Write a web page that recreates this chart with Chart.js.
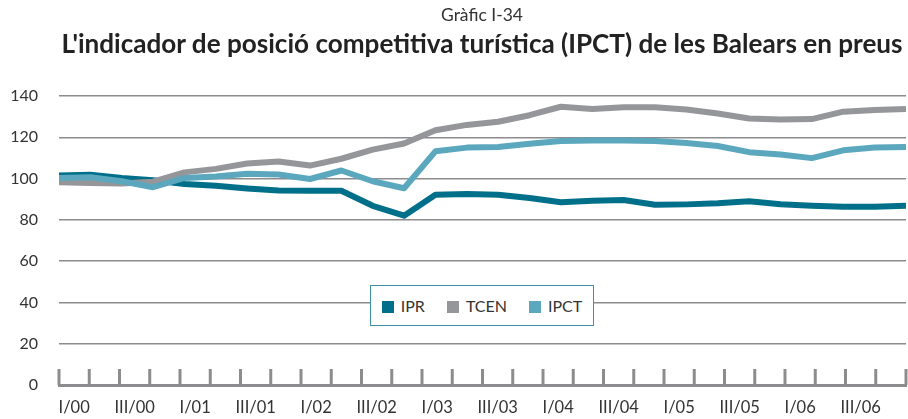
<!DOCTYPE html>
<html>
<head>
<meta charset="utf-8">
<script src="https://cdn.jsdelivr.net/npm/chart.js@4.4.0/dist/chart.umd.min.js"></script>
<style>
  html, body { margin: 0; padding: 0; background: #fff; }
  #wrap { position: relative; width: 908px; height: 419px; overflow: hidden; }
  #chart { position: absolute; left: 0; top: 0; }
  .sup { position: absolute; left: 482px; top: 4px; transform: translateX(-50%); white-space: nowrap;
         font: 17.5px Lato, sans-serif; color: #333; }
  .ttl { position: absolute; left: 482px; top: 27px; transform: translateX(-50%); white-space: nowrap;
         font: bold 26.1px Lato, sans-serif; color: #222; }
  #legend { position: absolute; left: 370px; top: 285px; width: 222px; height: 39px;
            border: 1.5px solid #3f90a3; background: #fff; display: flex;
            align-items: center; justify-content: center; gap: 22px;
            font: 16px Lato, sans-serif; color: #333; }
  #legend span.sw { display: inline-block; width: 12px; height: 12px; margin-right: 7px; vertical-align: -1px; }
</style>
</head>
<body>
<div id="wrap">
  <canvas id="chart" width="908" height="419"></canvas>
  <div class="sup">Gràfic I-34</div>
  <div class="ttl">L'indicador de posició competitiva turística (IPCT) de les Balears en preus</div>
  <div id="legend"></div>
</div>
<script>
// quarters I/00 .. IV/06
const quarters = [
  'I/00', 'II/00', 'III/00', 'IV/00',
  'I/01', 'II/01', 'III/01', 'IV/01',
  'I/02', 'II/02', 'III/02', 'IV/02',
  'I/03', 'II/03', 'III/03', 'IV/03',
  'I/04', 'II/04', 'III/04', 'IV/04',
  'I/05', 'II/05', 'III/05', 'IV/05',
  'I/06', 'II/06', 'III/06', 'IV/06'
];

const ipr = [101.5, 101.8, 100.3, 99.2, 97.4, 96.5, 95.2, 94.2, 94.1, 94.1, 86.8, 82.0, 92.2, 92.5,
             92.2, 90.6, 88.5, 89.3, 89.6, 87.3, 87.5, 88.0, 89.0, 87.6, 86.8, 86.3, 86.3, 86.8];
const tcen = [98.2, 97.9, 97.6, 98.5, 103.0, 104.7, 107.3, 108.3, 106.3, 109.6, 114.0, 117.0, 123.4, 126.0,
              127.5, 130.7, 134.8, 133.7, 134.5, 134.5, 133.5, 131.5, 129.1, 128.6, 128.8, 132.4, 133.2, 133.7];
const ipct = [100.3, 100.6, 98.7, 95.8, 100.3, 101.0, 102.3, 102.0, 99.8, 103.9, 98.7, 95.3, 113.2, 115.0,
              115.3, 116.9, 118.2, 118.5, 118.5, 118.2, 117.2, 115.8, 112.8, 111.7, 109.9, 113.7, 115.0, 115.3];

const seriesNames = ['IPR', 'TCEN', 'IPCT'];
const seriesColors = ['#00708a', '#95969a', '#5ba8be'];
const seriesValues = [ipr, tcen, ipct];

const yMin = 0, yMax = 140, yStep = 20;

// small tick marks standing on the x axis, one at every quarter boundary
const quarterTicks = {
  id: 'quarterTicks',
  afterDraw(chart) {
    const sc = chart.scales.x;
    const ctx = chart.ctx;
    ctx.save();
    ctx.strokeStyle = '#8c8c8e';
    ctx.lineWidth = 3;
    for (let i = 0; i <= quarters.length; i++) {
      const x = sc.getPixelForValue(i - 0.5);
      ctx.beginPath();
      ctx.moveTo(x, sc.top - 16);
      ctx.lineTo(x, sc.top);
      ctx.stroke();
    }
    ctx.restore();
  }
};

const datasets = seriesNames.map((name, k) => ({
  label: name,
  data: seriesValues[k].map((v, i) => ({ x: i, y: v })),
  xAxisID: 'xd',
  borderColor: seriesColors[k],
  backgroundColor: seriesColors[k],
  borderWidth: 6,
  borderJoinStyle: 'round',
  pointRadius: 0,
  tension: 0,
  order: 2 - k
}));

new Chart(document.getElementById('chart'), {
  type: 'line',
  data: { labels: quarters, datasets: datasets },
  options: {
    responsive: false,
    animation: false,
    layout: { padding: { top: 96, left: 8, right: 2, bottom: 2 } },
    plugins: { legend: { display: false }, tooltip: { enabled: false } },
    scales: {
      x: {
        type: 'category',
        offset: true,
        grid: { display: false },
        border: { display: true, color: '#8c8c8e', width: 3 },
        afterFit: s => { s.height = 32; },
        ticks: {
          autoSkip: false,
          maxRotation: 0,
          padding: 5,
          color: '#333',
          font: { family: 'Lato', size: 16.5 },
          callback: (v, i) => (i % 2 === 0 ? quarters[i] : '')
        }
      },
      xd: {
        type: 'linear',
        display: false,
        min: 0,
        max: quarters.length - 1
      },
      y: {
        min: yMin,
        max: yMax,
        afterFit: s => { s.width = 51; },
        ticks: {
          stepSize: yStep,
          padding: 21,
          color: '#333',
          font: { family: 'Lato', size: 16 }
        },
        grid: {
          color: '#8c8c8e',
          lineWidth: c => (c.tick && c.tick.value === 0 ? 3 : 1.5),
          drawTicks: false
        },
        border: { display: false }
      }
    }
  },
  plugins: [quarterTicks]
});

const legend = document.getElementById('legend');
seriesNames.forEach((name, k) => {
  const item = document.createElement('div');
  item.innerHTML = '<span class="sw" style="background:' + seriesColors[k] + '"></span>' + name;
  legend.appendChild(item);
});
</script>
</body>
</html>
